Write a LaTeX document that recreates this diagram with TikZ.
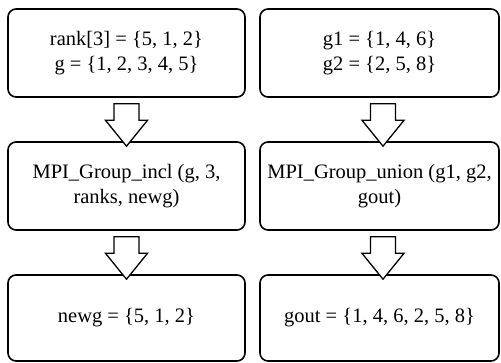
\documentclass[tikz,border=0pt]{standalone}
\usepackage{fontspec}
\setmainfont{Liberation Serif}
\usetikzlibrary{calc}
\tikzset{
  procbox/.style={draw=black, line width=1.6pt, rounded corners=8pt, fill=white,
    align=center, font=\fontsize{20.5}{25}\selectfont, inner sep=2pt},
  leftcol/.style={procbox, minimum width=237pt},
  rightcol/.style={procbox, minimum width=239pt},
  blockarrow/.style={draw=black, line width=1.3pt, fill=white, line join=miter}
}
\newcommand\blkarrow[3]{%
  \draw[blockarrow]
    ($(#1.south)+(#3-12.5,-6)$) -- ($(#1.south)+(#3+12.5,-6)$) --
    ($(#1.south)+(#3+12.5,-22.5)$) -- ($(#1.south)+(#3+21,-22.5)$) --
    ($(#2.north)+(#3,-5)$) --
    ($(#1.south)+(#3-21,-22.5)$) -- ($(#1.south)+(#3-12.5,-22.5)$) -- cycle;}
\begin{document}
\begin{tikzpicture}[x=1pt,y=1pt]
  \useasboundingbox (0,0) rectangle (501,-362);
  \node[leftcol, minimum height=88pt] (tl) at (126.5,-53)
    {rank[3] = \{5, 1, 2\}\\ g = \{1, 2, 3, 4, 5\}};
  \node[rightcol, minimum height=88pt] (tr) at (379.5,-53)
    {g1 = \{1, 4, 6\}\\ g2 = \{2, 5, 8\}};
  \node[leftcol, minimum height=88pt] (ml) at (126.5,-186)
    {MPI\_Group\_incl (g, 3,\\ ranks, newg)};
  \node[rightcol, minimum height=88pt] (mr) at (379.5,-186)
    {MPI\_Group\_union (g1, g2,\\ gout)};
  \node[leftcol, minimum height=86pt] (bl) at (126.5,-318)
    {newg = \{5, 1, 2\}};
  \node[rightcol, minimum height=86pt] (br) at (379.5,-318)
    {gout = \{1, 4, 6, 2, 5, 8\}};
  \blkarrow{tl}{ml}{0}
  \blkarrow{tr}{mr}{3.5}
  \blkarrow{ml}{bl}{0}
  \blkarrow{mr}{br}{3.5}
\end{tikzpicture}
\end{document}
